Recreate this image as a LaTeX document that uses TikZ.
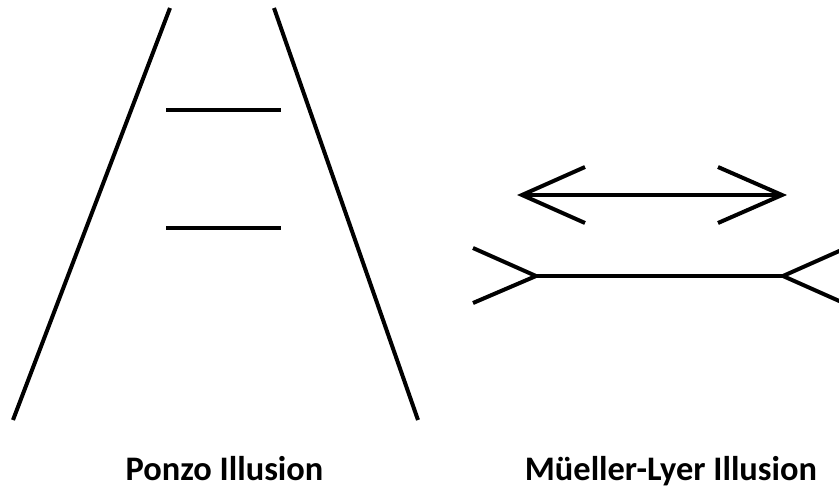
\documentclass[tikz,border=0pt]{standalone}
\usepackage{fontspec}
\setmainfont{Carlito}
\begin{document}
\begin{tikzpicture}[x=1pt,y=-1pt,
  ln/.style={line width=4pt,black},
  lbl/.style={font=\bfseries\fontsize{34.4}{40}\selectfont,anchor=base,inner sep=0pt}]
\useasboundingbox (0,0) rectangle (839,490);
\clip (0,0) rectangle (839,490);
% Ponzo
\coordinate (lt) at (170,8);
\coordinate (lb) at (13,420);
\coordinate (rt) at (274,8);
\coordinate (rb) at (418,420);
\draw[ln] (lt) -- (lb);
\draw[ln] (rt) -- (rb);
\coordinate (b1a) at (166,110); \coordinate (b1b) at (281,110);
\coordinate (b2a) at (166,228); \coordinate (b2b) at (281,228);
\draw[ln] (b1a) -- (b1b);
\draw[ln] (b2a) -- (b2b);
% Mueller-Lyer top (arrowheads inward)
\coordinate (ta) at (522,195); \coordinate (tb) at (782,195);
\coordinate (tf1) at (585,167); \coordinate (tf2) at (585,223);
\coordinate (tf3) at (718,167); \coordinate (tf4) at (718,223);
\draw[ln] (ta) -- (tb);
\draw[ln,line join=miter] (tf1) -- (ta) -- (tf2);
\draw[ln,line join=miter] (tf3) -- (tb) -- (tf4);
% Mueller-Lyer bottom (fins outward)
\coordinate (ba) at (536,276); \coordinate (bb) at (783,276);
\coordinate (bf1) at (473,248); \coordinate (bf2) at (473,303);
\coordinate (bf3) at (846,248); \coordinate (bf4) at (846,304);
\draw[ln] (ba) -- (bb);
\draw[ln] (bf1) -- (ba) -- (bf2);
\draw[ln] (bf3) -- (bb) -- (bf4);
% labels
\node[lbl] (ponzo) at (224.5,480) {Ponzo Illusion};
\node[lbl] (ml) at (671,480) {Müeller-Lyer Illusion};
\end{tikzpicture}
\end{document}
